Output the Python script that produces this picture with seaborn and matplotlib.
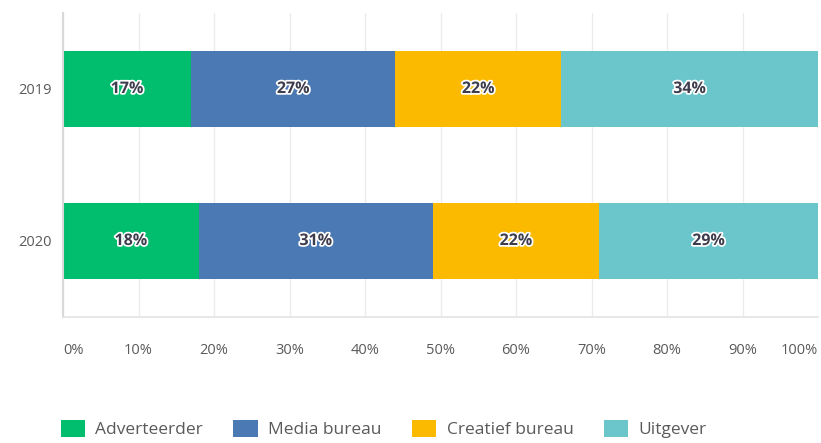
import matplotlib
matplotlib.use("Agg")
import matplotlib.pyplot as plt
import matplotlib.patheffects as pe
from matplotlib.patches import Patch
import seaborn as sns
import pandas as pd
import numpy as np

years = ["2019", "2020"]
series = ["Adverteerder", "Media bureau", "Creatief bureau", "Uitgever"]
adverteerder = [17, 18]
media_bureau = [27, 31]
creatief_bureau = [22, 22]
uitgever = [34, 29]
tick_labels = ["0%", "10%", "20%", "30%", "40%", "50%", "60%", "70%", "80%", "90%", "100%"]
colors = ["#00BE6E", "#4B79B4", "#FBBA00", "#6AC6CB"]

values = np.array([adverteerder, media_bureau, creatief_bureau, uitgever], dtype=float)
cum = np.cumsum(values, axis=0)

sns.set_theme(style="white")
plt.rcParams["font.family"] = ["Open Sans", "DejaVu Sans"]

fig = plt.figure(figsize=(8.21, 4.43), dpi=100)
ax = fig.add_axes([63 / 821, 1 - 317 / 443, 755 / 821, (317 - 13) / 443])

# stacked bars: draw cumulative totals back to front
for i in range(len(series) - 1, -1, -1):
    df = pd.DataFrame({"year": years, "total": cum[i]})
    sns.barplot(data=df, x="total", y="year", orient="h", color=colors[i],
                width=0.5, saturation=1, linewidth=0, edgecolor="none",
                ax=ax, zorder=2)

# segment labels at the middle of each segment
for i in range(len(series)):
    for j, yr in enumerate(years):
        center = cum[i][j] - values[i][j] / 2
        ax.text(center, j, f"{int(values[i][j])}%", ha="center", va="center",
                fontsize=11.5, fontweight="bold", color="#3d3d4d", zorder=5,
                path_effects=[pe.withStroke(linewidth=2.5, foreground="white")])

ax.set_xlim(0, 100)
ax.set_ylim(1.5, -0.5)
ax.set_xticks(np.arange(0, 101, 10))
ax.set_xticklabels(tick_labels)
ax.set_xlabel("")
ax.set_ylabel("")
ax.xaxis.grid(True, color="#ececec", linewidth=1, zorder=0)
ax.set_axisbelow(True)
for s in ["top", "right"]:
    ax.spines[s].set_visible(False)
ax.spines["left"].set_color("#d9d9d9")
ax.spines["left"].set_linewidth(1.5)
ax.spines["bottom"].set_color("#e3e3e3")
ax.spines["bottom"].set_linewidth(1.2)
ax.tick_params(axis="x", length=0, pad=19, labelsize=10.5, labelcolor="#5a5a5a")
ax.tick_params(axis="y", length=0, pad=8, labelsize=10.5, labelcolor="#5a5a5a")
xl = ax.get_xticklabels()
xl[0].set_ha("left")
xl[-1].set_ha("right")

handles = [Patch(facecolor=c, edgecolor="none") for c in colors]
leg = fig.legend(handles, series, loc="center left",
                 bbox_to_anchor=(45 / 821, 1 - 429 / 443), ncol=4, frameon=False,
                 handlelength=1.4, handleheight=1.15, handletextpad=0.6,
                 columnspacing=1.75, fontsize=12.5)
for t in leg.get_texts():
    t.set_color("#5a5a5a")

fig.savefig("out.png", dpi=100)
